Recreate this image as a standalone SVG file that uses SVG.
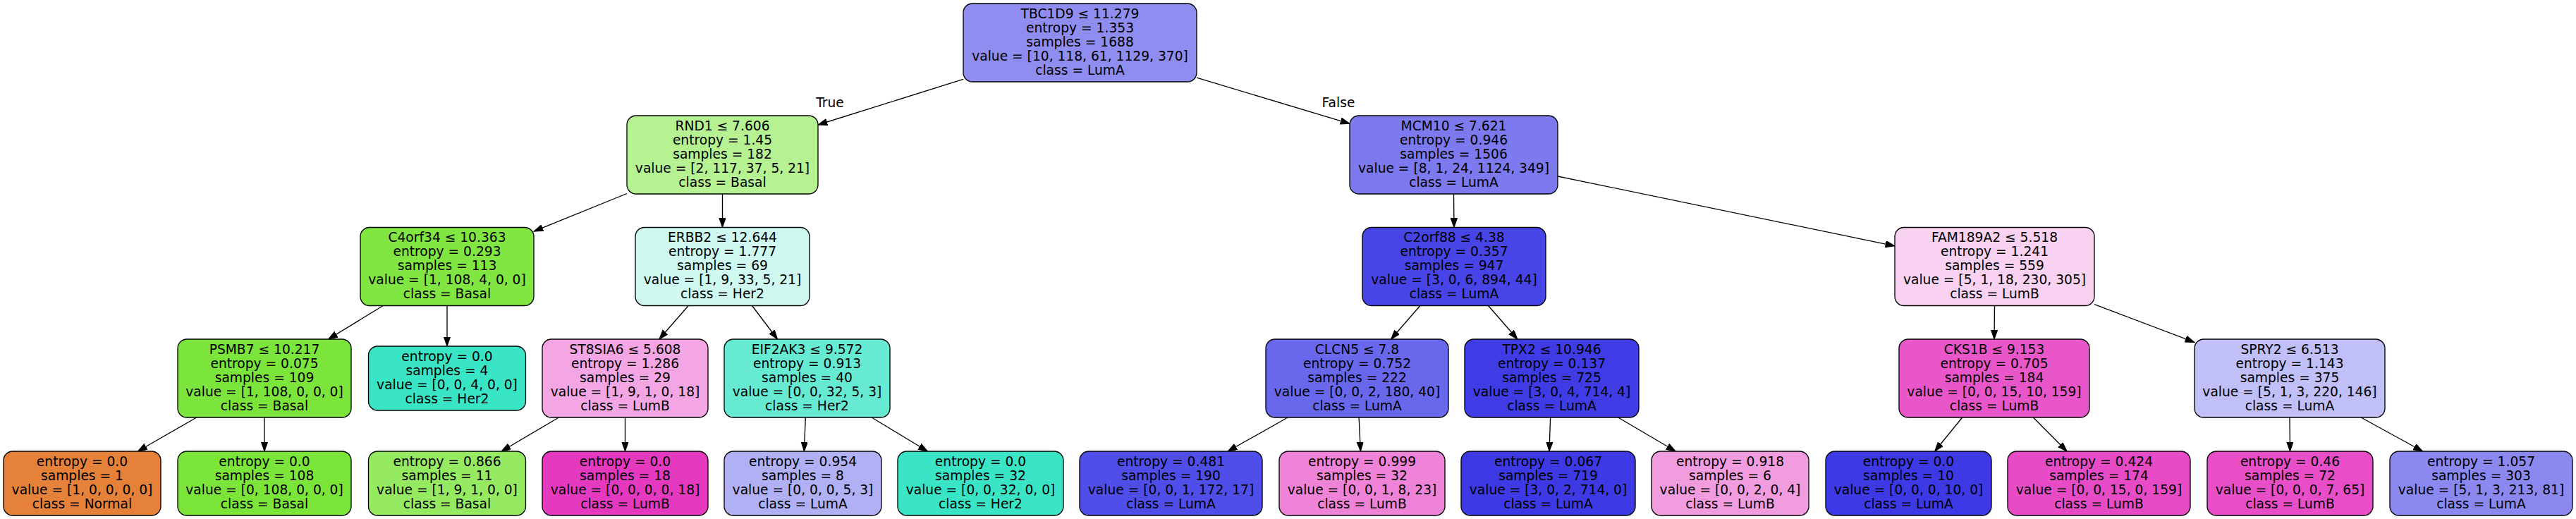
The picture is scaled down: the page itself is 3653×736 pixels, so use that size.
<svg xmlns="http://www.w3.org/2000/svg" width="3653" height="736" viewBox="0 0 3653 736">
<style>
.n rect{stroke:#000;stroke-width:1.33}
.n text{font-family:"DejaVu Sans","Liberation Sans",sans-serif;font-size:18.67px;text-anchor:middle;fill:#000}
.e line{stroke:#000;stroke-width:1.33;marker-end:url(#ah)}
.lbl{font-family:"DejaVu Sans","Liberation Sans",sans-serif;font-size:18.67px;text-anchor:middle;fill:#000}
</style>
<defs>
<marker id="ah" markerUnits="userSpaceOnUse" markerWidth="14" markerHeight="10" refX="13.3" refY="4.67" orient="auto">
<path d="M0,0 L13.3,4.67 L0,9.33 Z" fill="#000" stroke="#000" stroke-width="1"/>
</marker>
</defs>
<rect width="3653" height="736" fill="#fff"/>
<g id="edges" class="e">
<line x1="1366" y1="112.4" x2="1160" y2="177"/>
<line x1="1697" y1="110.2" x2="1914" y2="175.3"/>
<line x1="889" y1="274.5" x2="757" y2="328.1"/>
<line x1="1024.5" y1="275" x2="1024.5" y2="322.5"/>
<line x1="2061.5" y1="275" x2="2062" y2="322.5"/>
<line x1="2209" y1="250" x2="2687" y2="348.8"/>
<line x1="543.3" y1="433.5" x2="465.6" y2="481"/>
<line x1="634" y1="433.5" x2="634" y2="491"/>
<line x1="976.2" y1="433.5" x2="934.8" y2="481"/>
<line x1="1066.5" y1="433.5" x2="1102.5" y2="481"/>
<line x1="2013.9" y1="433.5" x2="1972.6" y2="481"/>
<line x1="2110.5" y1="433.5" x2="2152" y2="481"/>
<line x1="2828.5" y1="433.5" x2="2828" y2="481"/>
<line x1="2970" y1="431.6" x2="3112" y2="485.4"/>
<line x1="278.7" y1="592" x2="195.4" y2="640"/>
<line x1="375" y1="592" x2="375" y2="640"/>
<line x1="792.4" y1="592" x2="711.1" y2="640"/>
<line x1="886.5" y1="592" x2="886.5" y2="640"/>
<line x1="1142.3" y1="592" x2="1140.3" y2="640"/>
<line x1="1236.1" y1="592" x2="1315.4" y2="640"/>
<line x1="1826.2" y1="592" x2="1741.1" y2="640"/>
<line x1="1927.1" y1="592" x2="1929.4" y2="640"/>
<line x1="2198.6" y1="592" x2="2197" y2="640"/>
<line x1="2294.7" y1="592" x2="2376.2" y2="640"/>
<line x1="2782.7" y1="592" x2="2743.6" y2="640"/>
<line x1="2883.3" y1="592" x2="2931.1" y2="640"/>
<line x1="3247" y1="592" x2="3247.5" y2="640"/>
<line x1="3348.1" y1="592" x2="3435.6" y2="640"/>
<text class="lbl" x="1177" y="152">True</text>
<text class="lbl" x="1898" y="152">False</text>
</g>
<g id="n0" class="n"><rect x="1366" y="5" width="331" height="111" rx="13" fill="#8f8df0"/><text x="1531.5" y="25.7">TBC1D9 ≤ 11.279<tspan x="1531.5" dy="20">entropy = 1.353</tspan><tspan x="1531.5" dy="20">samples = 1688</tspan><tspan x="1531.5" dy="20">value = [10, 118, 61, 1129, 370]</tspan><tspan x="1531.5" dy="20">class = LumA</tspan></text></g>
<g id="n1" class="n"><rect x="889" y="164" width="271" height="111" rx="13" fill="#b6f192"/><text x="1024.5" y="184.7">RND1 ≤ 7.606<tspan x="1024.5" dy="20">entropy = 1.45</tspan><tspan x="1024.5" dy="20">samples = 182</tspan><tspan x="1024.5" dy="20">value = [2, 117, 37, 5, 21]</tspan><tspan x="1024.5" dy="20">class = Basal</tspan></text></g>
<g id="n2" class="n"><rect x="511" y="322.5" width="246" height="111" rx="13" fill="#81e642"/><text x="634" y="343.2">C4orf34 ≤ 10.363<tspan x="634" dy="20">entropy = 0.293</tspan><tspan x="634" dy="20">samples = 113</tspan><tspan x="634" dy="20">value = [1, 108, 4, 0, 0]</tspan><tspan x="634" dy="20">class = Basal</tspan></text></g>
<g id="n3" class="n"><rect x="252" y="481" width="246" height="111" rx="13" fill="#7ce53b"/><text x="375" y="501.7">PSMB7 ≤ 10.217<tspan x="375" dy="20">entropy = 0.075</tspan><tspan x="375" dy="20">samples = 109</tspan><tspan x="375" dy="20">value = [1, 108, 0, 0, 0]</tspan><tspan x="375" dy="20">class = Basal</tspan></text></g>
<g id="n4" class="n"><rect x="5" y="640" width="223" height="91" rx="13" fill="#e58139"/><text x="116.5" y="660.7">entropy = 0.0<tspan x="116.5" dy="20">samples = 1</tspan><tspan x="116.5" dy="20">value = [1, 0, 0, 0, 0]</tspan><tspan x="116.5" dy="20">class = Normal</tspan></text></g>
<g id="n5" class="n"><rect x="252" y="640" width="246" height="91" rx="13" fill="#7be539"/><text x="375" y="660.7">entropy = 0.0<tspan x="375" dy="20">samples = 108</tspan><tspan x="375" dy="20">value = [0, 108, 0, 0, 0]</tspan><tspan x="375" dy="20">class = Basal</tspan></text></g>
<g id="n6" class="n"><rect x="522.5" y="491" width="223" height="91" rx="13" fill="#39e5c5"/><text x="634" y="511.7">entropy = 0.0<tspan x="634" dy="20">samples = 4</tspan><tspan x="634" dy="20">value = [0, 0, 4, 0, 0]</tspan><tspan x="634" dy="20">class = Her2</tspan></text></g>
<g id="n7" class="n"><rect x="901" y="322.5" width="247" height="111" rx="13" fill="#cef8f0"/><text x="1024.5" y="343.2">ERBB2 ≤ 12.644<tspan x="1024.5" dy="20">entropy = 1.777</tspan><tspan x="1024.5" dy="20">samples = 69</tspan><tspan x="1024.5" dy="20">value = [1, 9, 33, 5, 21]</tspan><tspan x="1024.5" dy="20">class = Her2</tspan></text></g>
<g id="n8" class="n"><rect x="769" y="481" width="235" height="111" rx="13" fill="#f3a6e3"/><text x="886.5" y="501.7">ST8SIA6 ≤ 5.608<tspan x="886.5" dy="20">entropy = 1.286</tspan><tspan x="886.5" dy="20">samples = 29</tspan><tspan x="886.5" dy="20">value = [1, 9, 1, 0, 18]</tspan><tspan x="886.5" dy="20">class = LumB</tspan></text></g>
<g id="n9" class="n"><rect x="522.5" y="640" width="223" height="91" rx="13" fill="#95ea61"/><text x="634" y="660.7">entropy = 0.866<tspan x="634" dy="20">samples = 11</tspan><tspan x="634" dy="20">value = [1, 9, 1, 0, 0]</tspan><tspan x="634" dy="20">class = Basal</tspan></text></g>
<g id="n10" class="n"><rect x="769" y="640" width="235" height="91" rx="13" fill="#e539c0"/><text x="886.5" y="660.7">entropy = 0.0<tspan x="886.5" dy="20">samples = 18</tspan><tspan x="886.5" dy="20">value = [0, 0, 0, 0, 18]</tspan><tspan x="886.5" dy="20">class = LumB</tspan></text></g>
<g id="n11" class="n"><rect x="1027" y="481" width="235" height="111" rx="13" fill="#66ebd2"/><text x="1144.5" y="501.7">EIF2AK3 ≤ 9.572<tspan x="1144.5" dy="20">entropy = 0.913</tspan><tspan x="1144.5" dy="20">samples = 40</tspan><tspan x="1144.5" dy="20">value = [0, 0, 32, 5, 3]</tspan><tspan x="1144.5" dy="20">class = Her2</tspan></text></g>
<g id="n12" class="n"><rect x="1027" y="640" width="223" height="91" rx="13" fill="#b1b0f5"/><text x="1138.5" y="660.7">entropy = 0.954<tspan x="1138.5" dy="20">samples = 8</tspan><tspan x="1138.5" dy="20">value = [0, 0, 0, 5, 3]</tspan><tspan x="1138.5" dy="20">class = LumA</tspan></text></g>
<g id="n13" class="n"><rect x="1273" y="640" width="235" height="91" rx="13" fill="#39e5c5"/><text x="1390.5" y="660.7">entropy = 0.0<tspan x="1390.5" dy="20">samples = 32</tspan><tspan x="1390.5" dy="20">value = [0, 0, 32, 0, 0]</tspan><tspan x="1390.5" dy="20">class = Her2</tspan></text></g>
<g id="n14" class="n"><rect x="1914" y="164" width="295" height="111" rx="13" fill="#7c7aee"/><text x="2061.5" y="184.7">MCM10 ≤ 7.621<tspan x="2061.5" dy="20">entropy = 0.946</tspan><tspan x="2061.5" dy="20">samples = 1506</tspan><tspan x="2061.5" dy="20">value = [8, 1, 24, 1124, 349]</tspan><tspan x="2061.5" dy="20">class = LumA</tspan></text></g>
<g id="n15" class="n"><rect x="1932" y="322.5" width="260" height="111" rx="13" fill="#4745e7"/><text x="2062" y="343.2">C2orf88 ≤ 4.38<tspan x="2062" dy="20">entropy = 0.357</tspan><tspan x="2062" dy="20">samples = 947</tspan><tspan x="2062" dy="20">value = [3, 0, 6, 894, 44]</tspan><tspan x="2062" dy="20">class = LumA</tspan></text></g>
<g id="n16" class="n"><rect x="1795" y="481" width="259" height="111" rx="13" fill="#6967eb"/><text x="1924.5" y="501.7">CLCN5 ≤ 7.8<tspan x="1924.5" dy="20">entropy = 0.752</tspan><tspan x="1924.5" dy="20">samples = 222</tspan><tspan x="1924.5" dy="20">value = [0, 0, 2, 180, 40]</tspan><tspan x="1924.5" dy="20">class = LumA</tspan></text></g>
<g id="n17" class="n"><rect x="1531" y="640" width="259" height="91" rx="13" fill="#504ee8"/><text x="1660.5" y="660.7">entropy = 0.481<tspan x="1660.5" dy="20">samples = 190</tspan><tspan x="1660.5" dy="20">value = [0, 0, 1, 172, 17]</tspan><tspan x="1660.5" dy="20">class = LumA</tspan></text></g>
<g id="n18" class="n"><rect x="1814" y="640" width="235" height="91" rx="13" fill="#ef83d8"/><text x="1931.5" y="660.7">entropy = 0.999<tspan x="1931.5" dy="20">samples = 32</tspan><tspan x="1931.5" dy="20">value = [0, 0, 1, 8, 23]</tspan><tspan x="1931.5" dy="20">class = LumB</tspan></text></g>
<g id="n19" class="n"><rect x="2077" y="481" width="247" height="111" rx="13" fill="#3f3ce5"/><text x="2200.5" y="501.7">TPX2 ≤ 10.946<tspan x="2200.5" dy="20">entropy = 0.137</tspan><tspan x="2200.5" dy="20">samples = 725</tspan><tspan x="2200.5" dy="20">value = [3, 0, 4, 714, 4]</tspan><tspan x="2200.5" dy="20">class = LumA</tspan></text></g>
<g id="n20" class="n"><rect x="2072" y="640" width="247" height="91" rx="13" fill="#3d3ae5"/><text x="2195.5" y="660.7">entropy = 0.067<tspan x="2195.5" dy="20">samples = 719</tspan><tspan x="2195.5" dy="20">value = [3, 0, 2, 714, 0]</tspan><tspan x="2195.5" dy="20">class = LumA</tspan></text></g>
<g id="n21" class="n"><rect x="2342" y="640" width="223" height="91" rx="13" fill="#f29ce0"/><text x="2453.5" y="660.7">entropy = 0.918<tspan x="2453.5" dy="20">samples = 6</tspan><tspan x="2453.5" dy="20">value = [0, 0, 2, 0, 4]</tspan><tspan x="2453.5" dy="20">class = LumB</tspan></text></g>
<g id="n22" class="n"><rect x="2687" y="322.5" width="283" height="111" rx="13" fill="#f9d2f1"/><text x="2828.5" y="343.2">FAM189A2 ≤ 5.518<tspan x="2828.5" dy="20">entropy = 1.241</tspan><tspan x="2828.5" dy="20">samples = 559</tspan><tspan x="2828.5" dy="20">value = [5, 1, 18, 230, 305]</tspan><tspan x="2828.5" dy="20">class = LumB</tspan></text></g>
<g id="n23" class="n"><rect x="2693" y="481" width="270" height="111" rx="13" fill="#e956c9"/><text x="2828" y="501.7">CKS1B ≤ 9.153<tspan x="2828" dy="20">entropy = 0.705</tspan><tspan x="2828" dy="20">samples = 184</tspan><tspan x="2828" dy="20">value = [0, 0, 15, 10, 159]</tspan><tspan x="2828" dy="20">class = LumB</tspan></text></g>
<g id="n24" class="n"><rect x="2589" y="640" width="235" height="91" rx="13" fill="#3c39e5"/><text x="2706.5" y="660.7">entropy = 0.0<tspan x="2706.5" dy="20">samples = 10</tspan><tspan x="2706.5" dy="20">value = [0, 0, 0, 10, 0]</tspan><tspan x="2706.5" dy="20">class = LumA</tspan></text></g>
<g id="n25" class="n"><rect x="2847" y="640" width="259" height="91" rx="13" fill="#e74cc6"/><text x="2976.5" y="660.7">entropy = 0.424<tspan x="2976.5" dy="20">samples = 174</tspan><tspan x="2976.5" dy="20">value = [0, 0, 15, 0, 159]</tspan><tspan x="2976.5" dy="20">class = LumB</tspan></text></g>
<g id="n26" class="n"><rect x="3112" y="481" width="270" height="111" rx="13" fill="#c0bff7"/><text x="3247" y="501.7">SPRY2 ≤ 6.513<tspan x="3247" dy="20">entropy = 1.143</tspan><tspan x="3247" dy="20">samples = 375</tspan><tspan x="3247" dy="20">value = [5, 1, 3, 220, 146]</tspan><tspan x="3247" dy="20">class = LumA</tspan></text></g>
<g id="n27" class="n"><rect x="3130" y="640" width="235" height="91" rx="13" fill="#e84ec7"/><text x="3247.5" y="660.7">entropy = 0.46<tspan x="3247.5" dy="20">samples = 72</tspan><tspan x="3247.5" dy="20">value = [0, 0, 0, 7, 65]</tspan><tspan x="3247.5" dy="20">class = LumB</tspan></text></g>
<g id="n28" class="n"><rect x="3389" y="640" width="259" height="91" rx="13" fill="#8b89f0"/><text x="3518.5" y="660.7">entropy = 1.057<tspan x="3518.5" dy="20">samples = 303</tspan><tspan x="3518.5" dy="20">value = [5, 1, 3, 213, 81]</tspan><tspan x="3518.5" dy="20">class = LumA</tspan></text></g>
</svg>
